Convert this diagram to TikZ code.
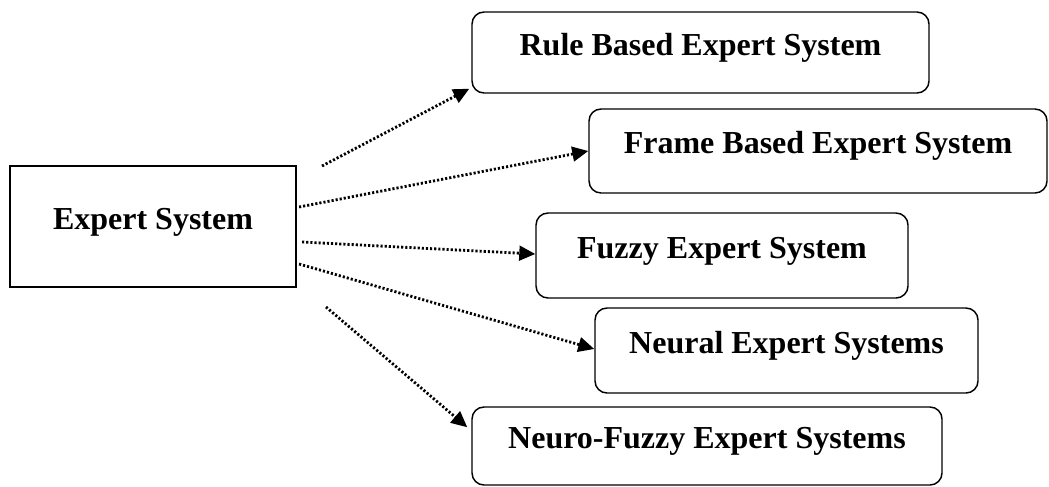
\documentclass[tikz,border=0pt]{standalone}
\usepackage{fontspec}
\setmainfont{Liberation Serif}
\usetikzlibrary{arrows.meta,calc}
\begin{document}
\begin{tikzpicture}[x=0.75pt,y=-0.75pt,
  box/.style={draw, line width=1.1pt, rounded corners=9pt, inner sep=0pt,
    font=\bfseries\fontsize{24}{28}\selectfont,
    text height=16.8pt, text depth=12.8pt},
  mainbox/.style={box, rounded corners=0pt, line width=1.6pt},
  link/.style={line width=2.1pt, dash pattern=on 1.6pt off 1.5pt,
    -{Triangle[length=12pt,width=11pt]}}]
  \useasboundingbox (0,0) rectangle (1049,486);

  % root and the five kinds of expert system
  \node[mainbox, minimum width=214.5pt, minimum height=90.75pt] (es) at (153,226.5) {Expert System};
  \node[box, minimum width=342.75pt, minimum height=60.75pt] (rb) at (700.5,52.5) {Rule Based Expert System};
  \node[box, minimum width=343.5pt, minimum height=63pt] (fb) at (818,151) {Frame Based Expert System};
  \node[box, minimum width=279pt, minimum height=63.75pt] (fz) at (722,255.5) {Fuzzy Expert System};
  \node[box, minimum width=287.25pt, minimum height=63.75pt] (ne) at (786.5,350.5) {Neural Expert Systems};
  \node[box, minimum width=352.5pt, minimum height=58.5pt] (nf) at (707,446) {Neuro-Fuzzy Expert Systems};

  % free tails of the two outer arrows
  \coordinate (t1) at (322,166);
  \coordinate (t5) at (326,307);

  % dotted connectors
  \draw[link] (t1) -- ($(rb.south west)+(-2,-5)$);
  \draw[link] ($(es.east)+(2,-19.5)$) -- (fb.west);
  \draw[link] ($(es.east)+(5,15.5)$) -- ($(fz.west)+(0,-1.5)$);
  \draw[link] ($(es.east)+(2,37.5)$) -- ($(ne.west)+(0,-1.5)$);
  \draw[link] (t5) -- ($(nf.north west)+(-4,21)$);
\end{tikzpicture}
\end{document}
